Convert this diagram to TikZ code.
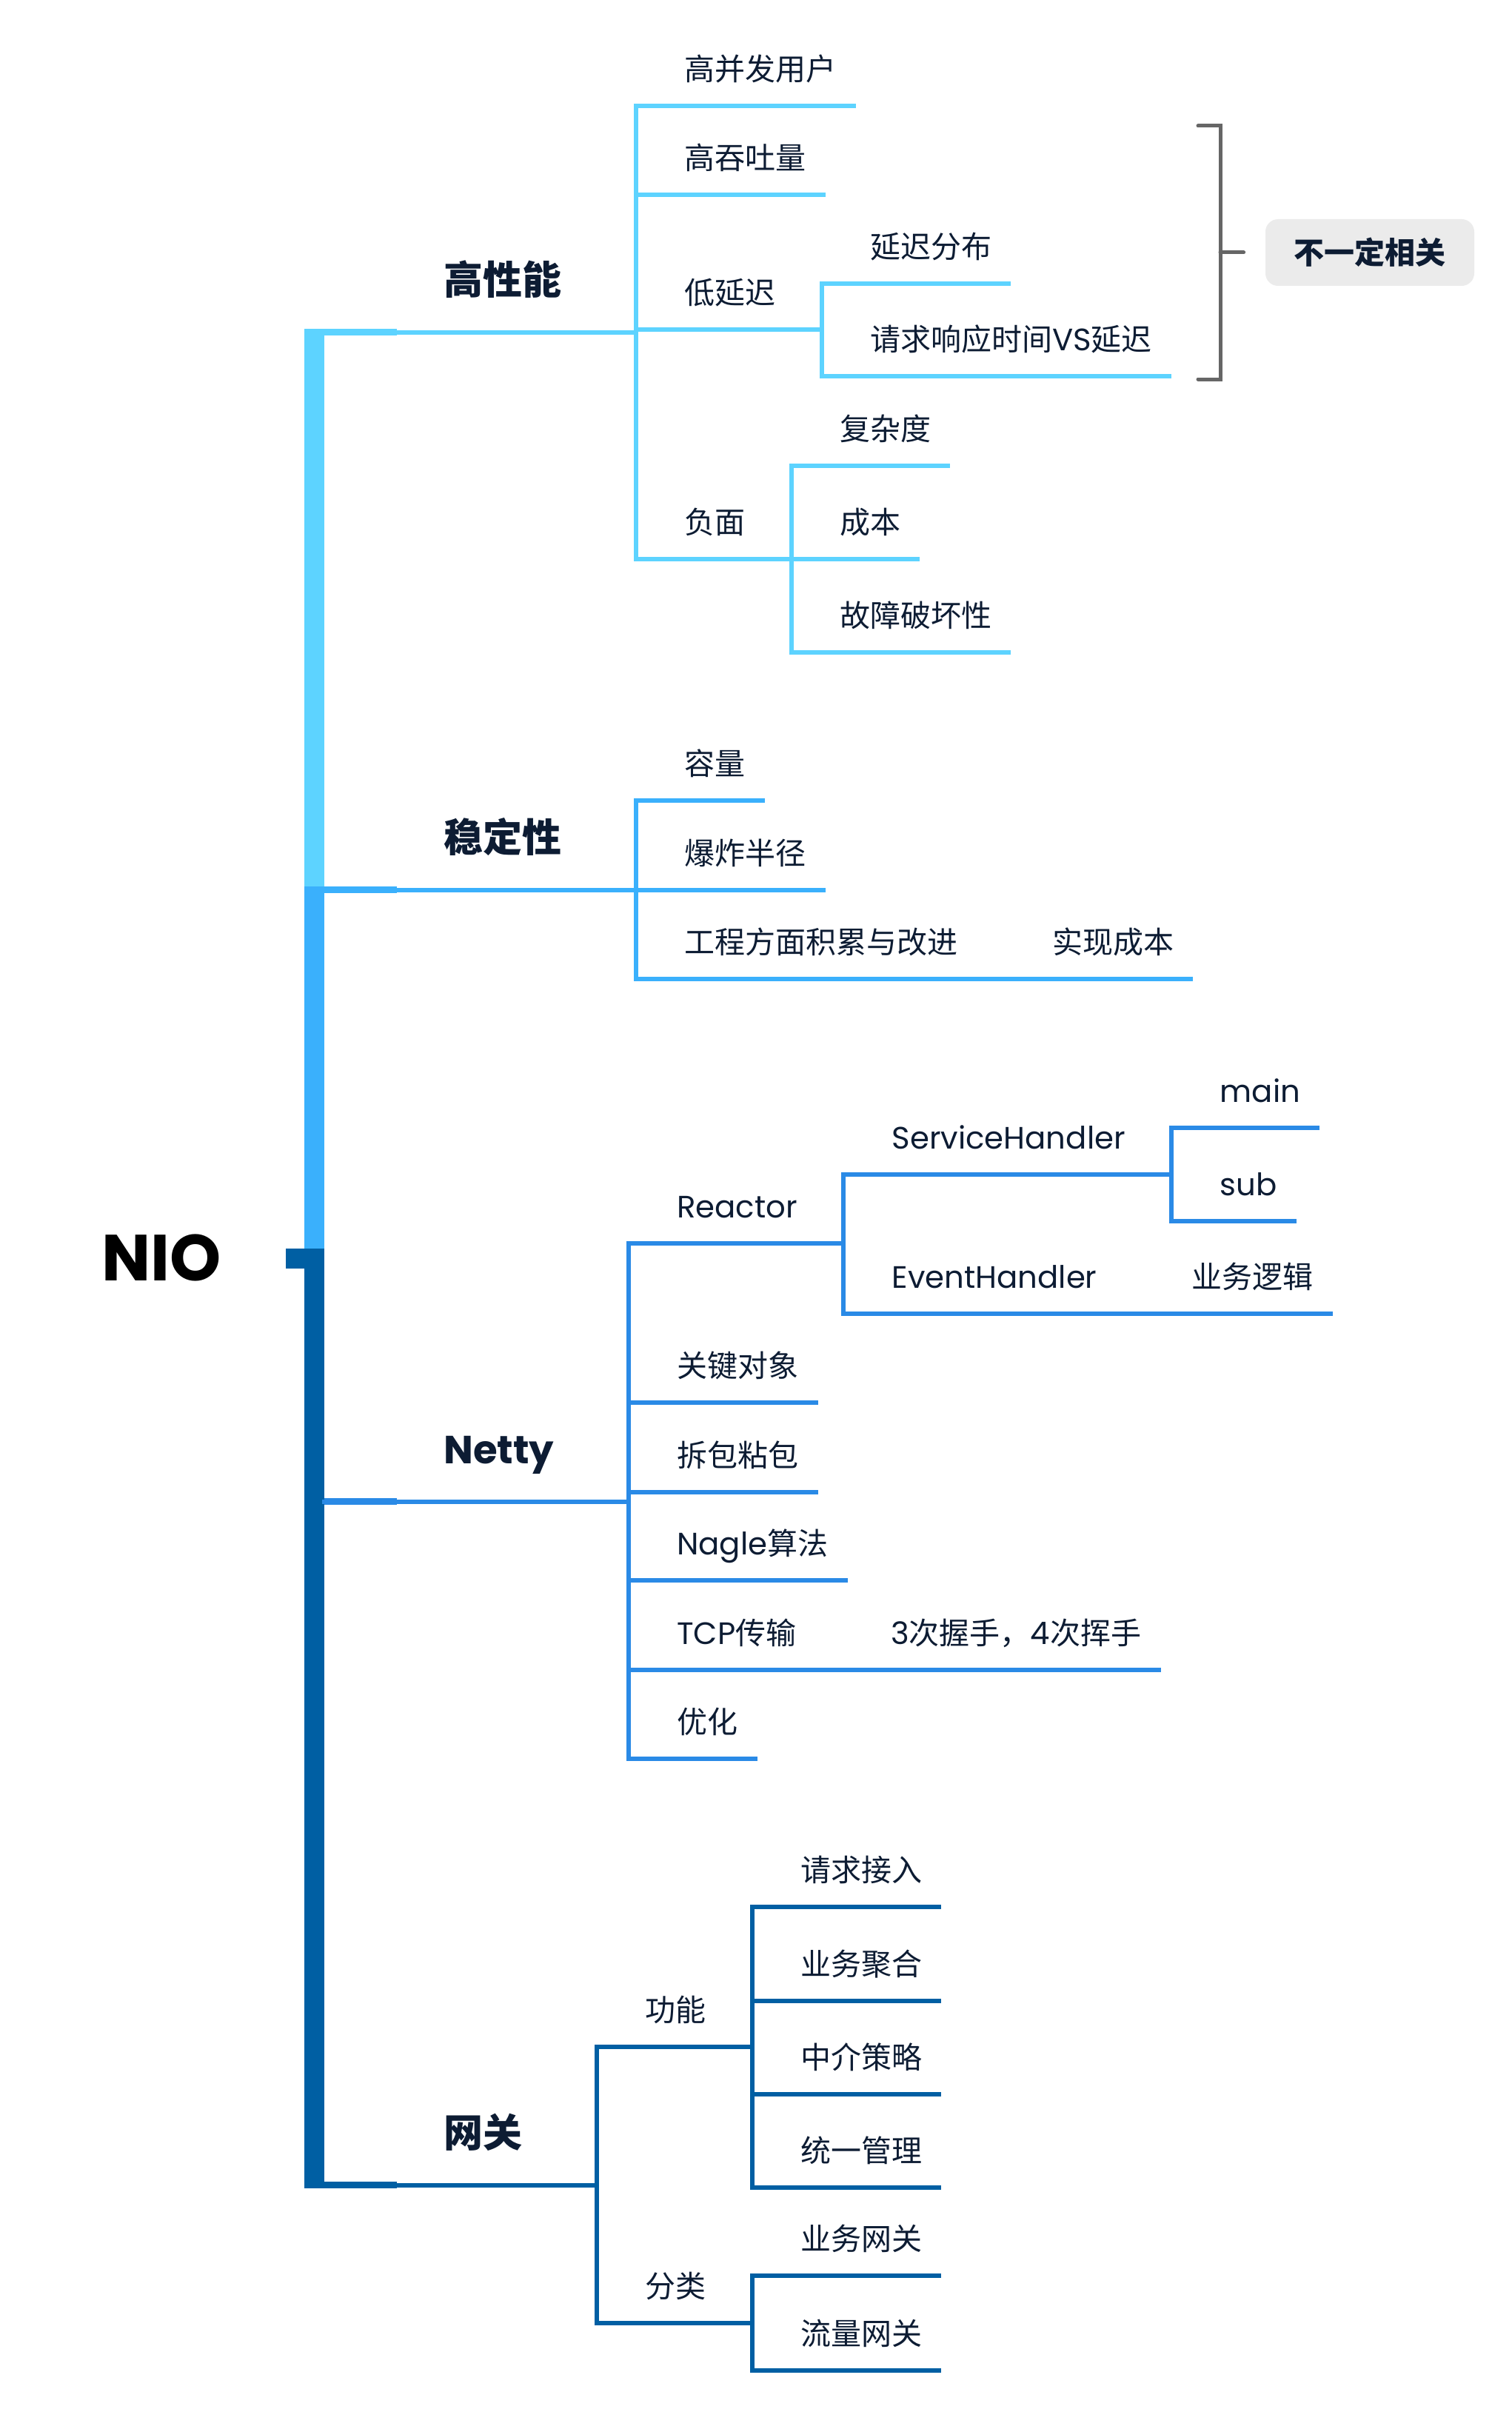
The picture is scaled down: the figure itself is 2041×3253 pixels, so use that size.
\documentclass[tikz,border=0pt]{standalone}
\usepackage{fontspec}
\setmainfont{Noto Sans CJK SC}
\newfontfamily\lat[Scale=1.02]{Poppins}
\newfontfamily\latb{Poppins}
\usepackage{tikz}
\usetikzlibrary{positioning}
\definecolor{hpc}{RGB}{93,211,255}
\definecolor{wdc}{RGB}{58,176,252}
\definecolor{ntc}{RGB}{42,138,230}
\definecolor{wgc}{RGB}{0,95,163}
\definecolor{txt}{RGB}{13,28,51}
\definecolor{brkc}{RGB}{102,102,102}
\definecolor{boxc}{RGB}{235,235,235}
\newcommand{\leafsize}{\fontsize{20.5pt}{24pt}\selectfont}
\newcommand{\topicsize}{\fontsize{26.5pt}{30pt}\selectfont\bfseries}

\tikzset{
    base/.style={anchor=south west, inner xsep=0pt, text depth=0pt, text=txt},
    leaf/.style={base, inner ysep=17pt, font=\leafsize,
        execute at begin node={\hspace*{32.5pt}}, execute at end node={\hspace*{11.5pt}}},
    parent/.style={base, inner ysep=17pt, font=\leafsize,
        execute at begin node={\hspace*{32.5pt}}, execute at end node={\hspace*{31pt}}},
    topic/.style={base, inner ysep=25.5pt, font=\topicsize,
        execute at begin node={\hspace*{80.5pt}}, execute at end node={\hspace*{50pt}}},
    wire/.style={line width=3pt, line cap=rect},
    brk/.style={line width=2.5pt, brkc, line cap=round, line join=miter},
}

\begin{document}
\begin{tikzpicture}[x=0.5pt, y=-0.5pt]
    \useasboundingbox (0,0) rectangle (2041,3253);

    % trunk and root
    \fill[hpc] (411,444) rectangle (438,1197);
    \fill[wdc] (411,1197) rectangle (438,1686);
    \fill[wgc] (411,1686) rectangle (438,2955);
    \fill[wgc] (386,1686) rectangle (438,1713);
    \fill[hpc] (438,444) rectangle (536,453);
    \fill[wdc] (438,1197) rectangle (536,1206);
    \fill[ntc] (438,2023) rectangle (536,2032);
    \fill[wgc] (438,2946) rectangle (536,2955);
    \node[anchor=base west, inner sep=0pt, font=\fontsize{44pt}{48pt}\selectfont\bfseries] (nio) at (137,1729) {\latb NIO};

    % 高性能
    \node[topic] (hp) at (438,449) {高性能};
    \draw[wire, hpc] (hp.south west) -- (hp.south east);
    \node[leaf] (gbf) at (hp.south east |- 0,143) {高并发用户};
    \node[leaf] (gtt) at (hp.south east |- 0,263) {高吞吐量};
    \node[parent] (ldy) at (hp.south east |- 0,445) {低延迟};
    \node[parent] (fm) at (hp.south east |- 0,755) {负面};
    \foreach \c in {gbf, gtt, ldy, fm}
        \draw[wire, hpc] (hp.south east) -- (\c.south west) -- (\c.south east);
    \node[leaf] (ycf) at (ldy.south east |- 0,383) {延迟分布};
    \node[leaf] (qxs) at (ldy.south east |- 0,508) {请求响应时间{\lat VS}延迟};
    \foreach \c in {ycf, qxs}
        \draw[wire, hpc] (ldy.south east) -- (\c.south west) -- (\c.south east);
    \node[leaf] (fzd) at (fm.south east |- 0,629) {复杂度};
    \node[leaf] (cb) at (fm.south east |- 0,755) {成本};
    \node[leaf] (gzp) at (fm.south east |- 0,881) {故障破坏性};
    \foreach \c in {fzd, cb, gzp}
        \draw[wire, hpc] (fm.south east) -- (\c.south west) -- (\c.south east);

    % summary bracket
    \node[fill=boxc, rounded corners=8.5pt, minimum width=141pt, minimum height=45pt,
        inner sep=0pt, text=txt, font=\leafsize\bfseries] (byd) at (1850,341) {不一定相关};
    \draw[brk] (1618,170) -- (1648,170) -- (1648,512) -- (1618,512);
    \coordinate (brkmid) at (1648,341);
    \draw[brk] (brkmid) -- ([xshift=-14.5pt]byd.west);

    % 稳定性
    \node[topic] (wd) at (438,1202) {稳定性};
    \draw[wire, wdc] (wd.south west) -- (wd.south east);
    \node[leaf] (rl) at (wd.south east |- 0,1081) {容量};
    \node[leaf] (bzb) at (wd.south east |- 0,1202) {爆炸半径};
    \node[parent] (gcf) at (wd.south east |- 0,1322) {工程方面积累与改进};
    \foreach \c in {rl, bzb, gcf}
        \draw[wire, wdc] (wd.south east) -- (\c.south west) -- (\c.south east);
    \node[leaf] (sxc) at (gcf.south east) {实现成本};
    \draw[wire, wdc] (sxc.south west) -- (sxc.south east);

    % Netty
    \node[topic] (nt) at (438,2028) {\latb Netty};
    \draw[wire, ntc] (nt.south west) -- (nt.south east);
    \node[parent] (rea) at (nt.south east |- 0,1679) {\lat Reactor};
    \node[leaf] (gjd) at (nt.south east |- 0,1894) {关键对象};
    \node[leaf] (cbz) at (nt.south east |- 0,2015) {拆包粘包};
    \node[leaf] (ngl) at (nt.south east |- 0,2134) {{\lat Nagle}算法};
    \node[parent] (tcp) at (nt.south east |- 0,2255) {{\lat TCP}传输};
    \node[leaf] (yh) at (nt.south east |- 0,2375) {优化};
    \foreach \c in {rea, gjd, cbz, ngl, tcp, yh}
        \draw[wire, ntc] (nt.south east) -- (\c.south west) -- (\c.south east);
    \node[parent] (svh) at (rea.south east |- 0,1586) {\lat ServiceHandler};
    \node[parent] (evh) at (rea.south east |- 0,1774) {\lat EventHandler};
    \foreach \c in {svh, evh}
        \draw[wire, ntc] (rea.south east) -- (\c.south west) -- (\c.south east);
    \node[leaf] (mn) at (svh.south east |- 0,1523) {\lat main};
    \node[leaf] (sb) at (svh.south east |- 0,1649) {\lat sub};
    \foreach \c in {mn, sb}
        \draw[wire, ntc] (svh.south east) -- (\c.south west) -- (\c.south east);
    \node[leaf] (ywl) at (evh.south east) {业务逻辑};
    \draw[wire, ntc] (ywl.south west) -- (ywl.south east);
    \node[leaf] (wsh) at (tcp.south east) {{\lat 3}次握手，{\lat 4}次挥手};
    \draw[wire, ntc] (wsh.south west) -- (wsh.south east);

    % 网关
    \node[topic] (wg) at (438,2951) {网关};
    \draw[wire, wgc] (wg.south west) -- (wg.south east);
    \node[parent] (gn) at (wg.south east |- 0,2764) {功能};
    \node[parent] (fl) at (wg.south east |- 0,3137) {分类};
    \foreach \c in {gn, fl}
        \draw[wire, wgc] (wg.south east) -- (\c.south west) -- (\c.south east);
    \node[leaf] (qqj) at (gn.south east |- 0,2575) {请求接入};
    \node[leaf] (ywj) at (gn.south east |- 0,2702) {业务聚合};
    \node[leaf] (zjc) at (gn.south east |- 0,2828) {中介策略};
    \node[leaf] (tyg) at (gn.south east |- 0,2954) {统一管理};
    \foreach \c in {qqj, ywj, zjc, tyg}
        \draw[wire, wgc] (gn.south east) -- (\c.south west) -- (\c.south east);
    \node[leaf] (ywg) at (fl.south east |- 0,3073) {业务网关};
    \node[leaf] (llg) at (fl.south east |- 0,3201) {流量网关};
    \foreach \c in {ywg, llg}
        \draw[wire, wgc] (fl.south east) -- (\c.south west) -- (\c.south east);
\end{tikzpicture}
\end{document}
